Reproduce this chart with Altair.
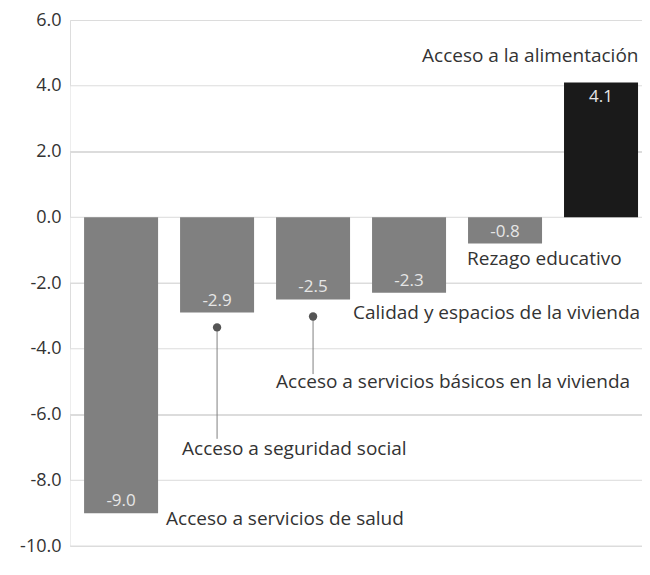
import altair as alt
import pandas as pd

categories = [
    "Acceso a servicios de salud",
    "Acceso a seguridad social",
    "Acceso a servicios básicos en la vivienda",
    "Calidad y espacios de la vivienda",
    "Rezago educativo",
    "Acceso a la alimentación",
]
values = [-9.0, -2.9, -2.5, -2.3, -0.8, 4.1]
value_labels = ["-9.0", "-2.9", "-2.5", "-2.3", "-0.8", "4.1"]
bar_colors = ["#808080", "#808080", "#808080", "#808080", "#808080", "#1a1a1a"]

# annotation anchors for category names: y in data units, x offset from bar's left edge
label_y = [-9.17, -7.05, -5.0, -2.92, -1.26, 4.89]
label_dx = [82, 2, 0, -19, -1, -142]

# leader lines (categories 2 and 3)
leader_cats = ["Acceso a seguridad social", "Acceso a servicios básicos en la vivienda"]
leader_top = [-3.35, -3.02]
leader_bottom = [-6.74, -4.77]

band_top = [4, 0, -4, -8]
band_bottom = [2, -2, -6, -10]

ticks = [-10, -8, -6, -4, -2, 0, 2, 4, 6]

W, H = 572, 526
FONT = "Open Sans"

df = pd.DataFrame({
    "cat": categories, "val": values, "lab": value_labels,
    "col": bar_colors, "ly": label_y, "ldx": label_dx,
})
lead = pd.DataFrame({"cat": leader_cats, "top": leader_top, "bot": leader_bottom})
bands = pd.DataFrame({"t": band_top, "b": band_bottom})

xs = alt.Scale(domain=categories, paddingInner=0.229, paddingOuter=0.094, align=0.78)
X = alt.X("cat:N", sort=categories, scale=xs, axis=None)
ys = alt.Scale(domain=[-10, 6], nice=False)

base = alt.Chart(df)

grid = alt.Chart(bands).mark_rect(fill="white", stroke="#dcdcdc", strokeWidth=1, clip=True).encode(
    x=alt.value(0), x2=alt.value(W + 10),
    y=alt.Y("t:Q", scale=ys, axis=alt.Axis(
        values=ticks, grid=True, gridColor="#dcdcdc", domain=False, ticks=False,
        labelFontSize=18, labelFont=FONT, labelColor="#333333", labelPadding=9,
        labelExpr="datum.value < 0 ? '-' + format(-datum.value, '.1f') : format(datum.value, '.1f')",
        title=None)),
    y2="b:Q",
)

bars = base.mark_bar().encode(
    x=X,
    y=alt.Y("val:Q", scale=ys),
    y2=alt.datum(0),
    color=alt.Color("col:N", scale=None),
)

neg_text = base.transform_filter("datum.val < 0").mark_text(
    baseline="middle", dy=-12, fontSize=17, font=FONT, color="#e6e6e6"
).encode(x=X, y=alt.Y("val:Q", scale=ys), text="lab:N")

pos_text = base.transform_filter("datum.val >= 0").mark_text(
    baseline="middle", dy=15, fontSize=17, font=FONT, color="#e6e6e6"
).encode(x=X, y=alt.Y("val:Q", scale=ys), text="lab:N")

cat_text = base.mark_text(
    align="left", baseline="middle", fontSize=19, font=FONT, color="#333333"
).encode(
    x=X, y=alt.Y("ly:Q", scale=ys), text="cat:N", xOffset=alt.XOffset("ldx:Q", scale=None)
)

rules = alt.Chart(lead).mark_rule(color="#808080", strokeWidth=1).encode(
    x=X, y=alt.Y("top:Q", scale=ys), y2="bot:Q"
)
dots = alt.Chart(lead).mark_point(filled=True, size=70, color="#555555", opacity=1).encode(
    x=X, y=alt.Y("top:Q", scale=ys)
)

chart = alt.layer(grid, bars, neg_text, pos_text, rules, dots, cat_text).properties(
    width=W, height=H,
    autosize=alt.AutoSizeParams(type="none"),
    padding={"left": 62, "top": 12, "right": 0, "bottom": 20},
).configure_view(stroke=None).configure(background="white")

chart.save("out.html", embed_options={"renderer": "svg", "actions": False})
